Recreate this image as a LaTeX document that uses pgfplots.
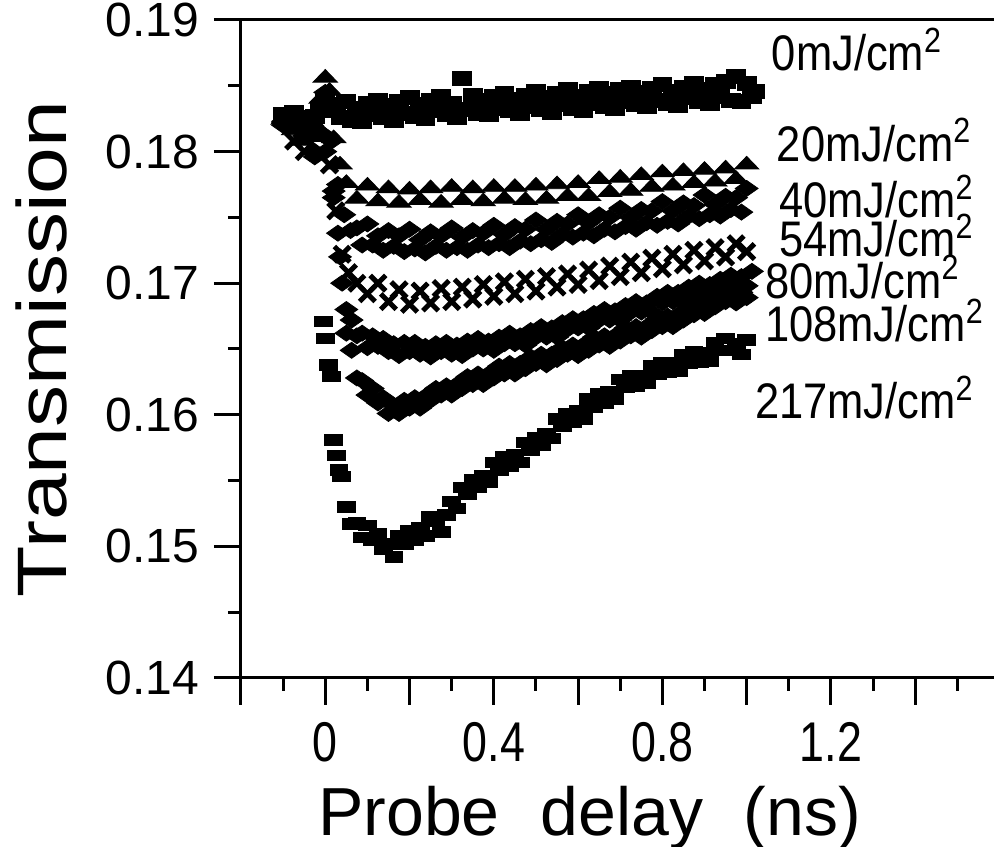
\documentclass[border=0pt]{standalone}
\usepackage{fontspec}
\setmainfont{Liberation Sans}
\newfontfamily\ytfont{Liberation Sans}[FakeStretch=1.0]
\newfontfamily\xtfont{Liberation Sans}[FakeStretch=0.8]
\newfontfamily\ylfont{Liberation Sans}[FakeStretch=1.2]
\newfontfamily\annfont{Liberation Sans}[FakeStretch=0.87]
\usepackage{pgfplots}
\pgfplotsset{compat=1.18}

% 0 mJ/cm^2 (values x 1e-4)
\pgfplotstableread{
t v
-0.1 1828
-0.0875 1824
-0.075 1830
-0.0625 1821
-0.05 1826
-0.0375 1818
-0.025 1827
-0.0125 1832
0 1838
0.0125 1831
0.025 1836
0.0375 1826
0.05 1838
0.0625 1824
0.075 1833
0.0875 1823
0.1 1837
0.1125 1828
0.125 1839
0.1375 1826
0.15 1835
0.1625 1824
0.175 1838
0.1875 1829
0.2 1841
0.2125 1827
0.225 1836
0.2375 1825
0.25 1839
0.2625 1831
0.275 1842
0.2875 1828
0.3 1837
0.3125 1826
0.325 1856
0.3375 1832
0.35 1843
0.3625 1829
0.375 1839
0.3875 1828
0.4 1842
0.4125 1833
0.425 1844
0.4375 1831
0.45 1840
0.4625 1829
0.475 1843
0.4875 1834
0.5 1846
0.5125 1832
0.525 1841
0.5375 1830
0.55 1844
0.5625 1836
0.575 1847
0.5875 1833
0.6 1842
0.6125 1831
0.625 1846
0.6375 1837
0.65 1848
0.6625 1834
0.675 1844
0.6875 1833
0.7 1847
0.7125 1838
0.725 1849
0.7375 1836
0.75 1845
0.7625 1834
0.775 1848
0.7875 1839
0.8 1851
0.8125 1837
0.825 1846
0.8375 1835
0.85 1849
0.8625 1841
0.875 1852
0.8875 1838
0.9 1847
0.9125 1837
0.925 1851
0.9375 1842
0.95 1853
0.9625 1839
0.975 1857
0.9875 1838
1.0 1852
1.0125 1842
1.02 1846
}\dataA

% 20 mJ/cm^2
\pgfplotstableread{
t v
-0.1 1824
-0.075 1816
-0.05 1808
-0.025 1820
-0.01 1840
0 1856
0.01 1846
0.02 1810
0.035 1790
0.05 1776
0.075 1764
0.1 1774
0.125 1762
0.15 1772
0.175 1761
0.2 1771
0.225 1763
0.25 1772
0.275 1761
0.3 1773
0.325 1763
0.35 1772
0.375 1762
0.4 1773
0.425 1764
0.45 1773
0.475 1763
0.5 1774
0.525 1764
0.55 1775
0.575 1766
0.6 1776
0.625 1766
0.65 1779
0.675 1769
0.7 1780
0.725 1770
0.75 1782
0.775 1773
0.8 1784
0.825 1774
0.85 1785
0.875 1776
0.9 1786
0.925 1777
0.95 1787
0.975 1779
1.0 1790
}\dataB

% 40 mJ/cm^2
\pgfplotstableread{
t v
-0.1 1822
-0.075 1826
-0.05 1812
-0.025 1800
0 1845
0.015 1808
0.03 1775
0.045 1752
0.06 1740
0.075 1742
0.0875 1729
0.1 1745
0.1125 1729
0.125 1736
0.1375 1725
0.15 1740
0.1625 1728
0.175 1736
0.1875 1724
0.2 1741
0.2125 1726
0.225 1733
0.2375 1723
0.25 1739
0.2625 1728
0.275 1736
0.2875 1725
0.3 1742
0.3125 1727
0.325 1735
0.3375 1725
0.35 1740
0.3625 1729
0.375 1738
0.3875 1727
0.4 1744
0.4125 1730
0.425 1737
0.4375 1727
0.45 1743
0.4625 1732
0.475 1741
0.4875 1730
0.5 1748
0.5125 1733
0.525 1741
0.5375 1731
0.55 1747
0.5625 1737
0.575 1745
0.5875 1735
0.6 1752
0.6125 1738
0.625 1746
0.6375 1736
0.65 1752
0.6625 1741
0.675 1750
0.6875 1739
0.7 1757
0.7125 1743
0.725 1750
0.7375 1741
0.75 1756
0.7625 1746
0.775 1755
0.7875 1744
0.8 1762
0.8125 1747
0.825 1755
0.8375 1745
0.85 1761
0.8625 1751
0.875 1759
0.8875 1749
0.9 1767
0.9125 1752
0.925 1760
0.9375 1751
0.95 1766
0.9625 1756
0.975 1765
0.9875 1754
1.0 1772
}\dataC

% 54 mJ/cm^2
\pgfplotstableread{
t v
-0.1 1825
-0.075 1808
-0.05 1800
-0.025 1815
0.01 1790
0.025 1755
0.04 1722
0.055 1708
0.075 1700
0.1 1692
0.125 1700
0.15 1686
0.175 1695
0.2 1684
0.225 1694
0.25 1685
0.275 1696
0.3 1686
0.325 1697
0.35 1688
0.375 1699
0.4 1690
0.425 1701
0.45 1692
0.475 1703
0.5 1694
0.525 1705
0.55 1697
0.575 1707
0.6 1699
0.625 1710
0.65 1702
0.675 1713
0.7 1705
0.725 1716
0.75 1708
0.775 1719
0.8 1711
0.825 1722
0.85 1714
0.875 1725
0.9 1717
0.925 1727
0.95 1720
0.975 1730
1.0 1724
}\dataD

% 80 mJ/cm^2
\pgfplotstableread{
t v
-0.1 1820
-0.075 1822
-0.05 1818
-0.025 1815
0.0 1812
0.02 1770
0.035 1720
0.05 1680
0.0625 1672
0.075 1660
0.0875 1662
0.1 1651
0.1125 1660
0.125 1652
0.1375 1658
0.15 1648
0.1625 1654
0.175 1645
0.1875 1655
0.2 1648
0.2125 1655
0.225 1646
0.2375 1652
0.25 1644
0.2625 1654
0.275 1648
0.2875 1655
0.3 1646
0.3125 1653
0.325 1645
0.3375 1656
0.35 1650
0.3625 1658
0.375 1650
0.3875 1656
0.4 1649
0.4125 1659
0.425 1654
0.4375 1662
0.45 1654
0.4625 1660
0.475 1653
0.4875 1664
0.5 1659
0.5125 1667
0.525 1659
0.5375 1666
0.55 1659
0.5625 1670
0.575 1665
0.5875 1673
0.6 1666
0.6125 1673
0.625 1666
0.6375 1677
0.65 1672
0.6625 1680
0.675 1672
0.6875 1679
0.7 1672
0.7125 1683
0.725 1678
0.7375 1686
0.75 1678
0.7625 1685
0.775 1678
0.7875 1690
0.8 1685
0.8125 1693
0.825 1686
0.8375 1693
0.85 1686
0.8625 1697
0.875 1692
0.8875 1700
0.9 1692
0.9125 1699
0.925 1692
0.9375 1703
0.95 1698
0.9625 1706
0.975 1698
0.9875 1705
1.0 1698
1.0125 1709
}\dataE

% 108 mJ/cm^2
\pgfplotstableread{
t v
-0.1 1823
-0.075 1825
-0.05 1815
-0.025 1796
0.0 1800
0.02 1765
0.03 1738
0.04 1700
0.05 1662
0.0625 1649
0.075 1628
0.0875 1626
0.1 1615
0.1125 1620
0.125 1609
0.1375 1613
0.15 1601
0.1625 1607
0.175 1601
0.1875 1611
0.2 1605
0.2125 1613
0.225 1605
0.2375 1614
0.25 1611
0.2625 1620
0.275 1615
0.2875 1622
0.3 1615
0.3125 1623
0.325 1620
0.3375 1629
0.35 1623
0.3625 1631
0.375 1623
0.3875 1631
0.4 1628
0.4125 1637
0.425 1631
0.4375 1639
0.45 1631
0.4625 1639
0.475 1635
0.4875 1644
0.5 1639
0.5125 1646
0.525 1638
0.5375 1646
0.55 1642
0.5625 1651
0.575 1646
0.5875 1653
0.6 1645
0.6125 1653
0.625 1649
0.6375 1659
0.65 1653
0.6625 1660
0.675 1652
0.6875 1660
0.7 1656
0.7125 1666
0.725 1660
0.7375 1667
0.75 1659
0.7625 1667
0.775 1664
0.7875 1673
0.8 1667
0.8125 1675
0.825 1667
0.8375 1676
0.85 1672
0.8625 1682
0.875 1676
0.8875 1684
0.9 1677
0.9125 1685
0.925 1682
0.9375 1691
0.95 1686
0.9625 1693
0.975 1685
0.9875 1693
1.0 1689
}\dataF

% 217 mJ/cm^2
\pgfplotstableread{
t v
-0.1 1826
-0.075 1822
-0.05 1818
-0.025 1812
-0.005 1671
0.0 1658
0.008 1638
0.014 1629
0.02 1581
0.026 1569
0.032 1558
0.038 1553
0.05 1530
0.0625 1517
0.075 1518
0.0875 1507
0.1 1516
0.1125 1505
0.125 1510
0.1375 1498
0.15 1502
0.1625 1492
0.175 1508
0.1875 1502
0.2 1512
0.2125 1505
0.225 1514
0.2375 1508
0.25 1523
0.2625 1519
0.275 1511
0.2875 1524
0.3 1534
0.3125 1529
0.325 1545
0.3375 1540
0.35 1551
0.3625 1545
0.375 1554
0.3875 1549
0.4 1564
0.4125 1558
0.425 1568
0.4375 1561
0.45 1570
0.4625 1564
0.475 1579
0.4875 1573
0.5 1583
0.5125 1577
0.525 1586
0.5375 1582
0.55 1597
0.5625 1591
0.575 1601
0.5875 1594
0.6 1603
0.6125 1597
0.625 1612
0.6375 1606
0.65 1616
0.6625 1609
0.675 1618
0.6875 1612
0.7 1627
0.7125 1621
0.725 1630
0.7375 1622
0.75 1630
0.7625 1624
0.775 1637
0.7875 1631
0.8 1640
0.8125 1632
0.825 1640
0.8375 1633
0.85 1646
0.8625 1639
0.875 1648
0.8875 1640
0.9 1647
0.9125 1641
0.925 1655
0.9375 1649
0.95 1658
0.9625 1649
0.975 1654
0.9875 1646
1.0 1657
}\dataG

\begin{document}
\begin{tikzpicture}
\begin{axis}[
  name=ax,
  scale only axis,
  width=376.5pt, height=329pt,
  xmin=-0.2, xmax=1.587,
  ymin=0.14, ymax=0.19,
  axis x line*=bottom,
  axis y line*=left,
  axis line style={line width=1.5pt},
  tick align=outside,
  major tick length=13.5pt,
  minor tick length=6.5pt,
  every tick/.style={black, line width=1.5pt},
  xtick={-0.2,0,0.2,0.4,0.6,0.8,1.0,1.2,1.4},
  xticklabels={,0,,0.4,,0.8,,1.2,},
  minor xtick={-0.1,0.1,0.3,0.5,0.7,0.9,1.1,1.3,1.5},
  ytick={0.14,0.15,0.16,0.17,0.18,0.19},
  yticklabels={0.14,0.15,0.16,0.17,0.18,0.19},
  minor ytick={0.145,0.155,0.165,0.175,0.185},
  scaled x ticks=false, scaled y ticks=false,
  xticklabel style={font=\xtfont\fontsize{28}{28}\selectfont, yshift=-5pt},
  yticklabel style={font=\ytfont\fontsize{24}{24}\selectfont, xshift=-4pt},
  xlabel={Probe\hspace{0.6em}delay\hspace{0.6em}(ns)},
  xlabel style={font=\fontsize{34}{34}\selectfont, at={(axis description cs:0.463,0)}, anchor=center, yshift=-70pt},
  ylabel={Transmission},
  ylabel style={font=\ylfont\fontsize{35}{35}\selectfont, at={(axis description cs:-0.2656,0.5)}, anchor=center},
  clip=false,
  only marks,
  y filter/.expression={y/10000},
]
\addplot[black, mark=square*, mark size=3.5pt, mark options={xscale=1.35}] table[x=t,y=v] {\dataA};
\addplot[black, mark=triangle*, mark size=7pt, mark options={yscale=0.6}] table[x=t,y=v] {\dataB};
\addplot[black, mark=diamond*, mark size=4pt, mark options={xscale=1.9}] table[x=t,y=v] {\dataC};
\addplot[black, mark=x, mark size=5.5pt, mark options={line width=2.5pt}] table[x=t,y=v] {\dataD};
\addplot[black, mark=diamond*, mark size=4pt, mark options={xscale=1.9}] table[x=t,y=v] {\dataE};
\addplot[black, mark=diamond*, mark size=4pt, mark options={xscale=1.9}] table[x=t,y=v] {\dataF};
\addplot[black, mark=square*, mark size=2.6pt, mark options={xscale=1.7}] table[x=t,y=v] {\dataG};
\begin{scope}[every node/.style={anchor=west, inner sep=0pt, font=\annfont\fontsize{25}{25}\selectfont}]
\node at (axis cs:1.059,0.18772) {0mJ/cm\textsuperscript{2}};
\node at (axis cs:1.071,0.18088) {20mJ/cm\textsuperscript{2}};
\node at (axis cs:1.076,0.17655) {40mJ/cm\textsuperscript{2}};
\node at (axis cs:1.076,0.17359) {54mJ/cm\textsuperscript{2}};
\node at (axis cs:1.043,0.17047) {80mJ/cm\textsuperscript{2}};
\node at (axis cs:1.043,0.16713) {108mJ/cm\textsuperscript{2}};
\node at (axis cs:1.019,0.16128) {217mJ/cm\textsuperscript{2}};
\end{scope}
\end{axis}
\draw[line width=1.5pt] ([xshift=-13.5pt]ax.north west) -- (ax.north east);
\pgfresetboundingbox
\path[use as bounding box] ([xshift=-120.5pt,yshift=-84.5pt]ax.south west) rectangle ([yshift=10pt]ax.north east);
\end{tikzpicture}
\end{document}
